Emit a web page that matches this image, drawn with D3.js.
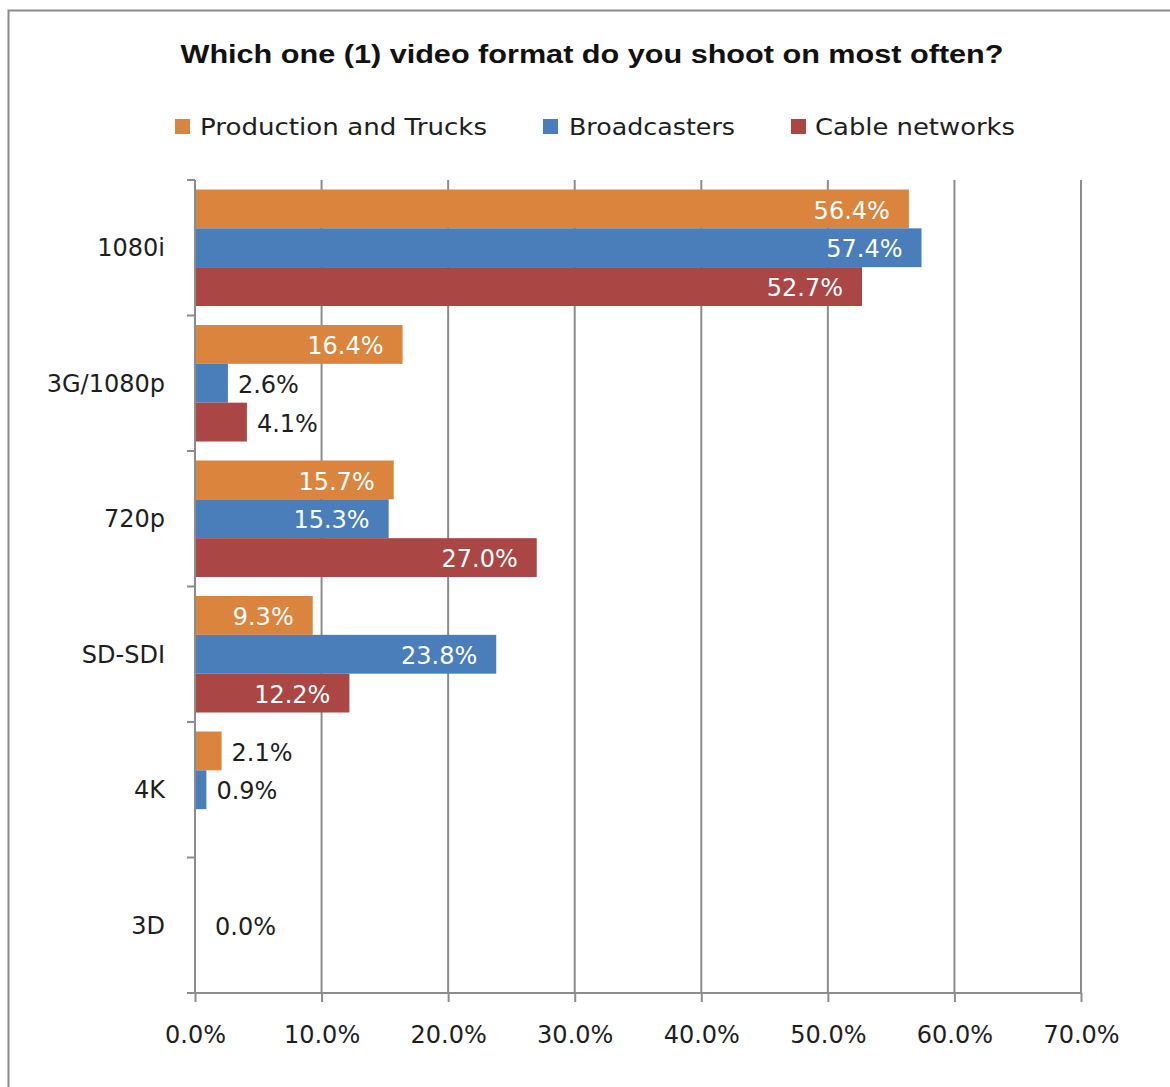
<!DOCTYPE html>
<html>
<head>
<meta charset="utf-8">
<script src="https://cdn.jsdelivr.net/npm/d3@7"></script>
<style>
  html, body { margin: 0; padding: 0; background: #fff; }
  svg { display: block; }
  text { font-family: "DejaVu Sans", Verdana, sans-serif; fill: #1e1e1e; }
</style>
</head>
<body>
<svg id="chart" width="1170" height="1087"></svg>
<script>
// Survey: share of respondents by most-used video format
const categories = ["1080i", "3G/1080p", "720p", "SD-SDI", "4K", "3D"];
const seriesNames = ["Production and Trucks", "Broadcasters", "Cable networks"];
const productionValues = [56.4, 16.4, 15.7, 9.3, 2.1, null];
const broadcasterValues = [57.4, 2.6, 15.3, 23.8, 0.9, 0.0];
const cableValues = [52.7, 4.1, 27.0, 12.2, null, null];
const xTicks = [0, 10, 20, 30, 40, 50, 60, 70];
const title = "Which one (1) video format do you shoot on most often?";

const colors = ["#DB843D", "#4A7EBB", "#AA4643"];
const seriesValues = [productionValues, broadcasterValues, cableValues];

const svg = d3.select("#chart");
const W = 1170, H = 1087;

// chart frame
svg.append("rect")
  .attr("x", 8.5).attr("y", 10.5)
  .attr("width", W + 10).attr("height", H + 10)
  .attr("fill", "#fff").attr("stroke", "#8c8c8c").attr("stroke-width", 2);

const plot = { left: 195, right: 1081, top: 180, bottom: 993 };

const x = d3.scaleLinear().domain([0, 70]).range([plot.left, plot.right]);
const y = d3.scaleBand().domain(categories).range([plot.top, plot.bottom]).padding(0);
const inner = d3.scaleBand().domain(seriesNames)
  .range([9.5, y.bandwidth() - 9.5]).padding(0);

// title
svg.append("text")
  .attr("x", 592).attr("y", 63)
  .attr("text-anchor", "middle")
  .attr("textLength", 823).attr("lengthAdjust", "spacingAndGlyphs")
  .style("font-family", "'Liberation Sans', Arial, sans-serif")
  .style("font-weight", "bold").style("font-size", "25px")
  .style("fill", "#111")
  .text(title);

// legend
const legendPos = [
  { sx: 175, tx: 200, len: 287 },
  { sx: 543, tx: 569, len: 166 },
  { sx: 791, tx: 815, len: 200 }
];
const legend = svg.append("g");
seriesNames.forEach((name, i) => {
  const p = legendPos[i];
  legend.append("rect")
    .attr("x", p.sx).attr("y", 119).attr("width", 15).attr("height", 15)
    .attr("fill", colors[i]);
  legend.append("text")
    .attr("x", p.tx).attr("y", 127).attr("dy", "0.35em")
    .attr("textLength", p.len).attr("lengthAdjust", "spacingAndGlyphs")
    .style("font-size", "23px")
    .text(name);
});

// vertical gridlines
svg.append("g").selectAll("line")
  .data(xTicks.filter(t => t > 0))
  .join("line")
  .attr("x1", d => x(d)).attr("x2", d => x(d))
  .attr("y1", plot.top).attr("y2", plot.bottom)
  .attr("stroke", "#8c8c8c").attr("stroke-width", 2);

// bars
const groups = svg.append("g").selectAll("g")
  .data(categories)
  .join("g")
  .attr("transform", d => `translate(0,${y(d)})`);

const barData = (cat, ci) => seriesNames.map((s, si) => ({
  cat, series: s, si, value: seriesValues[si][ci]
})).filter(d => d.value !== null);

groups.each(function (cat, ci) {
  const g = d3.select(this);
  const data = barData(cat, ci);
  g.selectAll("rect")
    .data(data)
    .join("rect")
    .attr("x", x(0))
    .attr("y", d => inner(d.series))
    .attr("width", d => x(d.value) - x(0))
    .attr("height", inner.bandwidth())
    .attr("fill", d => colors[d.si]);

  // values: inside the bar end for long bars, just past it for short ones
  g.selectAll("text.value")
    .data(data)
    .join("text")
    .attr("class", "value")
    .attr("y", d => inner(d.series) + inner.bandwidth() / 2 + 1)
    .attr("dy", "0.36em")
    .style("font-size", "24px")
    .each(function (d) {
      const w = x(d.value) - x(0);
      const t = d3.select(this);
      if (w > 90) {
        t.attr("x", x(d.value) - 19).attr("text-anchor", "end").style("fill", "#fff");
      } else {
        t.attr("x", Math.max(x(d.value) + 10, x(0) + 20)).attr("text-anchor", "start");
      }
    })
    .text(d => d.value.toFixed(1) + "%");
});

// x axis
const xAxis = svg.append("g")
  .attr("transform", `translate(0,${plot.bottom})`)
  .call(d3.axisBottom(x).tickValues(xTicks).tickSize(9).tickPadding(24)
    .tickFormat(d => d.toFixed(1) + "%"));
xAxis.select(".domain").attr("stroke", "#8c8c8c").attr("stroke-width", 2)
  .attr("d", `M${plot.left},0H${plot.right}`);
xAxis.selectAll(".tick line").attr("stroke", "#8c8c8c").attr("stroke-width", 2);
xAxis.selectAll(".tick text")
  .style("font-size", "24px").style("font-family", "'DejaVu Sans', Verdana, sans-serif")
  .attr("fill", "#1e1e1e");

// y axis: ticks at category boundaries, labels centred in each band
const yAxis = svg.append("g").attr("transform", `translate(${plot.left},0)`);
yAxis.append("line")
  .attr("x1", 0).attr("x2", 0).attr("y1", plot.top).attr("y2", plot.bottom)
  .attr("stroke", "#8c8c8c").attr("stroke-width", 2);
const bounds = categories.map(c => y(c)).concat([plot.bottom]);
yAxis.selectAll("line.tick")
  .data(bounds)
  .join("line")
  .attr("class", "tick")
  .attr("x1", -8).attr("x2", 0)
  .attr("y1", d => d).attr("y2", d => d)
  .attr("stroke", "#8c8c8c").attr("stroke-width", 2);
yAxis.selectAll("text")
  .data(categories)
  .join("text")
  .attr("x", -30)
  .attr("y", d => y(d) + y.bandwidth() / 2)
  .attr("dy", "0.35em")
  .attr("text-anchor", "end")
  .style("font-size", "24px")
  .text(d => d);
</script>
</body>
</html>
